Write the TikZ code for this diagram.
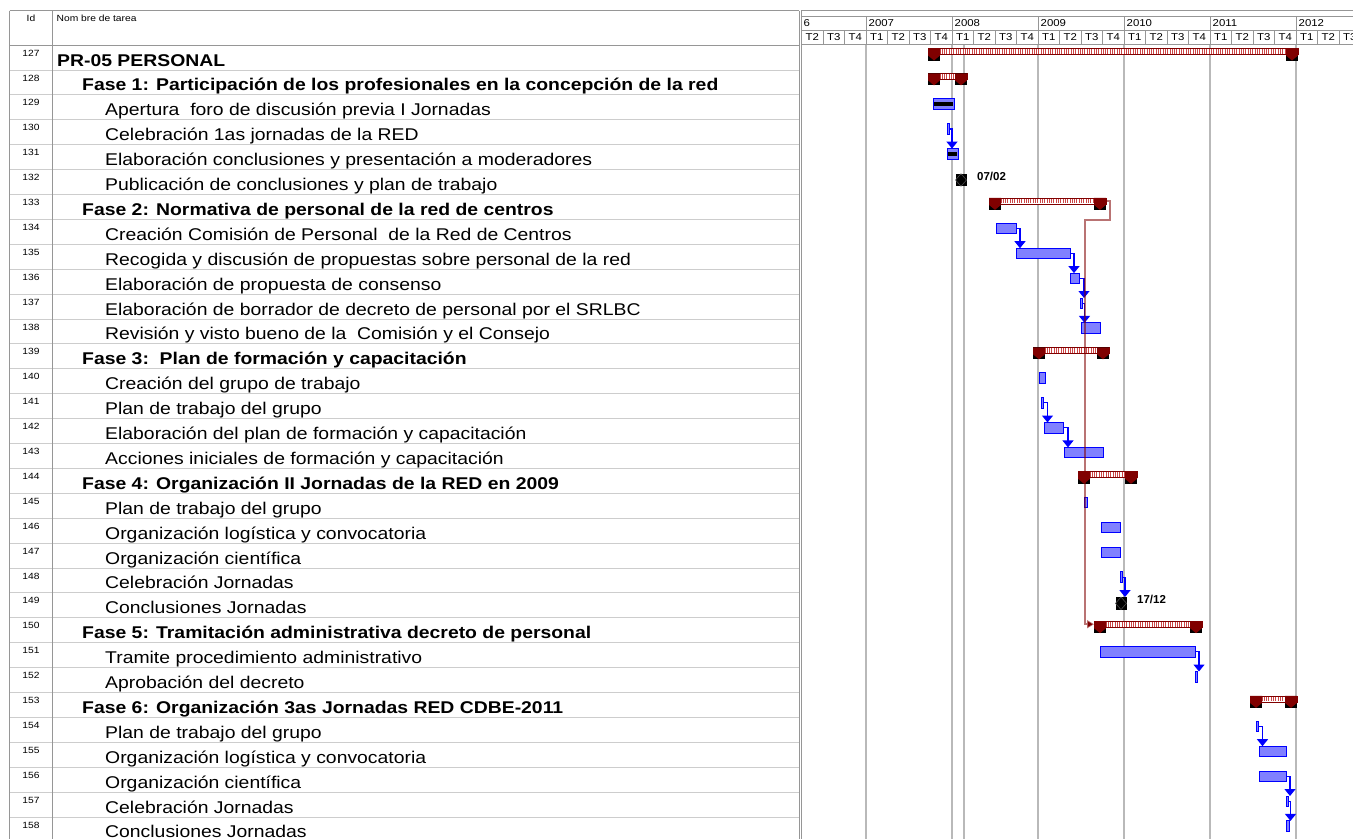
\documentclass[tikz,border=0pt]{standalone}
\usepackage{fontspec}
\setmainfont{Liberation Sans}
\newfontfamily\taskfont[FakeStretch=1.14]{Liberation Sans}
\usetikzlibrary{arrows.meta,calc}
\definecolor{barfill}{RGB}{128,128,255}
\definecolor{sumred}{RGB}{128,0,0}
\definecolor{hatchred}{RGB}{205,70,70}
\definecolor{gridgray}{RGB}{185,185,185}
\definecolor{rowline}{RGB}{205,205,205}
\definecolor{borderline}{RGB}{150,150,150}
\newcommand\RT[1]{45+24.9*(#1-127)}
\newcommand\tbar[4]{\node[taskbar, minimum width={#4-#3}] (#1) at (#3,{\RT{#2}+4}) {};}
\newcommand\depl[3][4]{\draw[dep] (#2.east) -| ([xshift=#1pt]#2.east |- #3.north);}
\newcommand\sumbar[4]{%
  \node[sumbox, minimum width={#4-#3}] (#1) at (#3,{\RT{#2}+3.5}) {};
  \fill[white] (#1.north west) rectangle ([yshift=-6pt]#1.north east);
  \draw[hatchred, line width=5pt, dash pattern=on 1pt off 1.3pt] ([yshift=-3pt]#1.north west) -- ([yshift=-3pt]#1.north east);
  \draw[sumred, line width=0.7pt] (#1.north west) rectangle ([yshift=-6pt]#1.north east);
  \fill[black] (#1.north west) rectangle ++(12,12);
  \fill[sumred] (#1.north west) -- ++(12,0) -- ++(0,7) -- ++(-6,5) -- ++(-6,-5) -- cycle;
  \fill[black] (#1.north east) rectangle ++(-12,12);
  \fill[sumred] (#1.north east) -- ++(-12,0) -- ++(0,7) -- ++(6,5) -- ++(6,-5) -- cycle;
}
\newcommand\mstone[3]{%
  \node[milestone] (#1) at (#2,{\RT{#3}+10.5}) {};
  \draw[gray!60!black, line width=0.6pt] (#1.north) -- (#1.east) -- (#1.south) -- (#1.west) -- cycle;
}
\begin{document}
\begin{tikzpicture}[x=1pt,y=-1pt,
  taskbar/.style={draw=blue, line width=1pt, fill=barfill, minimum height=10.5pt, inner sep=0pt, outer sep=0pt, anchor=north west},
  sumbox/.style={inner sep=0pt, outer sep=0pt, minimum height=12pt, anchor=north west},
  milestone/.style={fill=black, minimum width=11pt, minimum height=12.5pt, inner sep=0pt, outer sep=0pt},
  dep/.style={draw=blue, line width=1.2pt, -{Triangle[width=11pt,length=7pt]}},
  reddep/.style={draw=sumred, draw opacity=0.55, line width=1.6pt, -{Triangle[width=8pt,length=7pt]}},
  idtext/.style={font=\taskfont\fontsize{9}{10}\selectfont, inner sep=0pt},
  tasktext/.style={font=\taskfont\fontsize{17}{19}\selectfont, anchor=base west, inner sep=0pt},
  sumtext/.style={font=\taskfont\fontsize{17}{19}\selectfont\bfseries, anchor=base west, inner sep=0pt},
  hdrtext/.style={font=\taskfont\fontsize{10}{12}\selectfont, inner sep=0pt},
  mslabel/.style={font=\fontsize{11.5}{12}\selectfont\bfseries, inner sep=0pt, anchor=west},
  grid/.style={draw=gridgray, line width=1.3pt},
  hdrline/.style={draw=borderline, line width=0.8pt},
  rline/.style={draw=rowline, line width=0.8pt}]
\useasboundingbox (0,0) rectangle (1353,839);
\fill[white] (0,0) rectangle (1353,839);

% ---------- table ----------
\foreach \r in {128,...,158} \draw[rline] (9.5,{\RT{\r}}) -- (799,{\RT{\r}});
\draw[hdrline] (9.5,10.7) -- (799,10.7);
\draw[hdrline] (9.5,45) -- (799,45);
\draw[hdrline] (9.5,10.7) -- (9.5,839);
\draw[hdrline] (52,10.7) -- (52,839);
\draw[hdrline] (799,10.7) -- (799,839);
\node[idtext] (hid) at (31,18) {Id};
\node[idtext, anchor=west] (hname) at (56.5,18) {Nom bre de tarea};
\foreach \r in {127,...,158} \node[idtext] (id\r) at (31,{\RT{\r}+8}) {\r};

\node[sumtext] (t127) at (57,{\RT{127}+21}) {PR-05 PERSONAL};
\node[sumtext] (t128) at (82,{\RT{128}+21}) {Fase 1: Participación de los profesionales en la concepción de la red};
\node[tasktext] (t129) at (105,{\RT{129}+21}) {Apertura\ \ foro de discusión previa I Jornadas};
\node[tasktext] (t130) at (105,{\RT{130}+21}) {Celebración 1as jornadas de la RED};
\node[tasktext] (t131) at (105,{\RT{131}+21}) {Elaboración conclusiones y presentación a moderadores};
\node[tasktext] (t132) at (105,{\RT{132}+21}) {Publicación de conclusiones y plan de trabajo};
\node[sumtext] (t133) at (82,{\RT{133}+21}) {Fase 2: Normativa de personal de la red de centros};
\node[tasktext] (t134) at (105,{\RT{134}+21}) {Creación Comisión de Personal\ \ de la Red de Centros};
\node[tasktext] (t135) at (105,{\RT{135}+21}) {Recogida y discusión de propuestas sobre personal de la red};
\node[tasktext] (t136) at (105,{\RT{136}+21}) {Elaboración de propuesta de consenso};
\node[tasktext] (t137) at (105,{\RT{137}+21}) {Elaboración de borrador de decreto de personal por el SRLBC};
\node[tasktext] (t138) at (105,{\RT{138}+21}) {Revisión y visto bueno de la\ \ Comisión y el Consejo};
\node[sumtext] (t139) at (82,{\RT{139}+21}) {Fase 3:\ \ Plan de formación y capacitación};
\node[tasktext] (t140) at (105,{\RT{140}+21}) {Creación del grupo de trabajo};
\node[tasktext] (t141) at (105,{\RT{141}+21}) {Plan de trabajo del grupo};
\node[tasktext] (t142) at (105,{\RT{142}+21}) {Elaboración del plan de formación y capacitación};
\node[tasktext] (t143) at (105,{\RT{143}+21}) {Acciones iniciales de formación y capacitación};
\node[sumtext] (t144) at (82,{\RT{144}+21}) {Fase 4: Organización II Jornadas de la RED en 2009};
\node[tasktext] (t145) at (105,{\RT{145}+21}) {Plan de trabajo del grupo};
\node[tasktext] (t146) at (105,{\RT{146}+21}) {Organización logística y convocatoria};
\node[tasktext] (t147) at (105,{\RT{147}+21}) {Organización científica};
\node[tasktext] (t148) at (105,{\RT{148}+21}) {Celebración Jornadas};
\node[tasktext] (t149) at (105,{\RT{149}+21}) {Conclusiones Jornadas};
\node[sumtext] (t150) at (82,{\RT{150}+21}) {Fase 5: Tramitación administrativa decreto de personal};
\node[tasktext] (t151) at (105,{\RT{151}+21}) {Tramite procedimiento administrativo};
\node[tasktext] (t152) at (105,{\RT{152}+21}) {Aprobación del decreto};
\node[sumtext] (t153) at (82,{\RT{153}+21}) {Fase 6: Organización 3as Jornadas RED CDBE-2011};
\node[tasktext] (t154) at (105,{\RT{154}+21}) {Plan de trabajo del grupo};
\node[tasktext] (t155) at (105,{\RT{155}+21}) {Organización logística y convocatoria};
\node[tasktext] (t156) at (105,{\RT{156}+21}) {Organización científica};
\node[tasktext] (t157) at (105,{\RT{157}+21}) {Celebración Jornadas};
\node[tasktext] (t158) at (105,{\RT{158}+21}) {Conclusiones Jornadas};

% ---------- gantt ----------
\begin{scope}
\clip (800.5,0) rectangle (1353,839);
\draw[hdrline] (801,10.7) -- (1353,10.7);
\draw[hdrline] (801,16) -- (1353,16);
\draw[hdrline] (801,30) -- (1353,30);
\draw[hdrline] (801,44.5) -- (1353,44.5);
\draw[hdrline] (801,10.7) -- (801,839);
\node[hdrtext, anchor=west] (y2006) at (803.5,23.5) {6};
\foreach \y/\yx in {2007/866,2008/952,2009/1038,2010/1124,2011/1210,2012/1296} {
  \draw[hdrline] (\yx,16) -- (\yx,30);
  \node[hdrtext, anchor=west] (y\y) at ({\yx+2.5},23.5) {\y};
}
\foreach \i in {0,...,25} {
  \pgfmathsetmacro\qx{801.5+21.5*\i}
  \pgfmathtruncatemacro\qn{mod(\i+1,4)+1}
  \draw[hdrline] (\qx,30) -- (\qx,44.5);
  \node[hdrtext] (q\i) at ({\qx+10.75},37.5) {T\qn};
}
\foreach \gx in {866,952,964,1038,1124,1210,1296} \draw[grid] (\gx,45) -- (\gx,839);

% summary bars
\sumbar{s127}{127}{928}{1298}
\sumbar{s128}{128}{928}{967}
\sumbar{s133}{133}{989}{1106}
\sumbar{s139}{139}{1033}{1109}
\sumbar{s144}{144}{1078}{1137}
\sumbar{s150}{150}{1094}{1202}
\sumbar{s153}{153}{1250}{1297}

% task bars
\tbar{b129}{129}{933}{954}
\fill[black] ([xshift=1pt,yshift=-3pt]b129.north west) rectangle ([xshift=-1pt,yshift=3pt]b129.south east);
\tbar{b130}{130}{947.5}{949.5}
\tbar{b131}{131}{947}{958}
\fill[black] ([xshift=1pt,yshift=-3pt]b131.north west) rectangle ([xshift=-1pt,yshift=3pt]b131.south east);
\mstone{m132}{961}{132}
\node[mslabel] (l132) at ([xshift=10.5pt,yshift=3.5pt]m132.east) {07/02};
\tbar{b134}{134}{996}{1016}
\tbar{b135}{135}{1016}{1070}
\tbar{b136}{136}{1070}{1079}
\tbar{b137}{137}{1080.5}{1082.5}
\tbar{b138}{138}{1081}{1100}
\tbar{b140}{140}{1039}{1045}
\tbar{b141}{141}{1041}{1043.5}
\tbar{b142}{142}{1044}{1063}
\tbar{b143}{143}{1064}{1103}
\tbar{b145}{145}{1084.5}{1087.5}
\tbar{b146}{146}{1101}{1120}
\tbar{b147}{147}{1101}{1120}
\tbar{b148}{148}{1120}{1122}
\mstone{m149}{1121}{149}
\node[mslabel] (l149) at ([xshift=10.5pt,yshift=3.5pt]m149.east) {17/12};
\tbar{b151}{151}{1100}{1195}
\tbar{b152}{152}{1195}{1197}
\tbar{b154}{154}{1256}{1258.5}
\tbar{b155}{155}{1259}{1286}
\tbar{b156}{156}{1259}{1286}
\tbar{b157}{157}{1286.5}{1288.5}
\tbar{b158}{158}{1286.5}{1289}

% dependencies
\depl[2.5]{b130}{b131}
\depl[4]{b134}{b135}
\depl[4]{b135}{b136}
\depl[5]{b136}{b137}
\depl[2]{b137}{b138}
\depl[4]{b141}{b142}
\depl[5]{b142}{b143}
\depl[3]{b148}{m149}
\depl[4]{b151}{b152}
\depl[4]{b154}{b155}
\depl[4]{b156}{b157}
\depl[2]{b157}{b158}

\coordinate (rA) at (1085,220);
\draw[reddep] ([yshift=-3pt]s133.north east) -- ++(4,0) |- (rA) |- ([yshift=3pt]s150.west);
\end{scope}
\end{tikzpicture}
\end{document}
